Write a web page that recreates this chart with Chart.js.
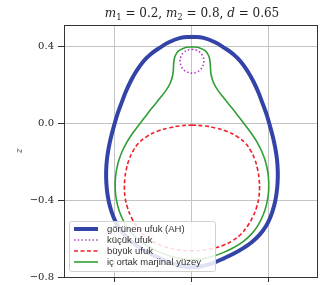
<!DOCTYPE html>
<html>
<head>
<meta charset="utf-8">
<script src="https://cdn.jsdelivr.net/npm/chart.js@4.4.0/dist/chart.umd.min.js"></script>
<style>
  html, body { margin: 0; padding: 0; background: #fff; overflow: hidden; }
  #wrap { width: 325px; height: 300px; }
</style>
</head>
<body>
<div id="wrap"><canvas id="c" width="325" height="300"></canvas></div>
<script>
// curves, as [x, z] pairs (closed loops, start at the top)
var ahPoints = [
  [0, 0.449], [0.06, 0.443], [0.12, 0.42], [0.17, 0.39], [0.215, 0.358], [0.255, 0.318], [0.29, 0.268],
  [0.32, 0.215], [0.345, 0.16], [0.366, 0.105], [0.386, 0.05], [0.404, -0.01], [0.42, -0.07],
  [0.433, -0.13], [0.442, -0.19], [0.446, -0.25], [0.445, -0.31], [0.439, -0.37], [0.427, -0.43],
  [0.409, -0.485], [0.385, -0.535], [0.352, -0.58], [0.312, -0.618], [0.267, -0.65], [0.218, -0.678],
  [0.166, -0.703], [0.112, -0.726], [0.056, -0.743], [0, -0.749],
  [-0.056, -0.743], [-0.112, -0.726], [-0.166, -0.703], [-0.218, -0.678], [-0.267, -0.65], [-0.312, -0.618],
  [-0.352, -0.58], [-0.385, -0.535], [-0.409, -0.485], [-0.427, -0.43], [-0.439, -0.37], [-0.445, -0.31],
  [-0.446, -0.25], [-0.442, -0.19], [-0.433, -0.13], [-0.42, -0.07], [-0.404, -0.01], [-0.386, 0.05],
  [-0.366, 0.105], [-0.345, 0.16], [-0.32, 0.215], [-0.29, 0.268], [-0.255, 0.318], [-0.215, 0.358],
  [-0.17, 0.39], [-0.12, 0.42], [-0.06, 0.443], [0, 0.449]
];
var smallPoints = [
  [0, 0.384], [0.024, 0.379], [0.044, 0.366], [0.057, 0.346], [0.062, 0.322], [0.057, 0.298],
  [0.044, 0.278], [0.024, 0.265], [0, 0.26], [-0.024, 0.265], [-0.044, 0.278], [-0.057, 0.298],
  [-0.062, 0.322], [-0.057, 0.346], [-0.044, 0.366], [-0.024, 0.379], [0, 0.384]
];
var bigPoints = [
  [0, -0.01], [0.06, -0.014], [0.12, -0.025], [0.18, -0.042], [0.235, -0.07], [0.278, -0.105],
  [0.306, -0.145], [0.327, -0.19], [0.341, -0.24], [0.349, -0.29], [0.351, -0.34], [0.347, -0.39],
  [0.335, -0.44], [0.315, -0.49], [0.288, -0.536], [0.254, -0.578], [0.21, -0.612], [0.16, -0.636],
  [0.11, -0.651], [0.055, -0.661], [0, -0.664],
  [-0.055, -0.661], [-0.11, -0.651], [-0.16, -0.636], [-0.21, -0.612], [-0.254, -0.578], [-0.288, -0.536],
  [-0.315, -0.49], [-0.335, -0.44], [-0.347, -0.39], [-0.351, -0.34], [-0.349, -0.29], [-0.341, -0.24],
  [-0.327, -0.19], [-0.306, -0.145], [-0.278, -0.105], [-0.235, -0.07], [-0.18, -0.042], [-0.12, -0.025],
  [-0.06, -0.014], [0, -0.01]
];
var innerPoints = [
  [0, 0.397], [0.04, 0.391], [0.07, 0.375], [0.087, 0.35], [0.094, 0.32], [0.096, 0.29], [0.1, 0.25],
  [0.112, 0.21], [0.135, 0.17], [0.17, 0.125], [0.208, 0.078], [0.244, 0.032], [0.278, -0.012],
  [0.31, -0.055], [0.339, -0.1], [0.364, -0.15], [0.382, -0.2], [0.394, -0.255], [0.399, -0.31],
  [0.397, -0.37], [0.387, -0.425], [0.37, -0.478], [0.344, -0.53], [0.31, -0.576], [0.266, -0.616],
  [0.215, -0.648], [0.165, -0.672], [0.11, -0.692], [0.055, -0.705], [0, -0.71],
  [-0.055, -0.705], [-0.11, -0.692], [-0.165, -0.672], [-0.215, -0.648], [-0.266, -0.616], [-0.31, -0.576],
  [-0.344, -0.53], [-0.37, -0.478], [-0.387, -0.425], [-0.397, -0.37], [-0.399, -0.31], [-0.394, -0.255],
  [-0.382, -0.2], [-0.364, -0.15], [-0.339, -0.1], [-0.31, -0.055], [-0.278, -0.012], [-0.244, 0.032],
  [-0.208, 0.078], [-0.17, 0.125], [-0.135, 0.17], [-0.112, 0.21], [-0.1, 0.25], [-0.096, 0.29],
  [-0.094, 0.32], [-0.087, 0.35], [-0.07, 0.375], [-0.04, 0.391], [0, 0.397]
];
var seriesLabels = ["görünen ufuk (AH)", "küçük ufuk", "büyük ufuk", "iç ortak marjinal yüzey"];
var xTicks = [-0.4, 0, 0.4];
var yTicks = [-0.8, -0.4, 0, 0.4];

function toXY(list) {
  return list.map(function (p) { return { x: p[0], y: p[1] }; });
}
function fmt(v) {
  return (v < 0 ? "\u2212" : "") + Math.abs(v).toFixed(1);
}

var styles = [
  { color: "#3443a8", width: 4, dash: [] },
  { color: "#b23cc6", width: 1.6, dash: [1.5, 2.2] },
  { color: "#ee1f2a", width: 1.6, dash: [4, 2.5] },
  { color: "#2f9e34", width: 1.6, dash: [] }
];
var curves = [ahPoints, smallPoints, bigPoints, innerPoints];

var datasets = curves.map(function (pts, i) {
  return {
    label: seriesLabels[i],
    data: toXY(pts),
    showLine: true,
    borderColor: styles[i].color,
    borderWidth: styles[i].width,
    borderDash: styles[i].dash,
    borderJoinStyle: "round",
    pointRadius: 0,
    tension: 0.4,
    fill: false
  };
});

var framePlugin = {
  id: "frame",
  afterDatasetsDraw: function (chart) {
    var ctx = chart.ctx, a = chart.chartArea;
    ctx.save();
    ctx.strokeStyle = "#333";
    ctx.lineWidth = 1;
    ctx.strokeRect(a.left + 0.5, a.top + 0.5, a.right - a.left - 1, a.bottom - a.top);

    // legend box
    var bx = 69, by = 221, bw = 146, bh = 50;
    ctx.fillStyle = "rgba(255,255,255,0.85)";
    ctx.strokeStyle = "#d0d0d0";
    ctx.beginPath();
    ctx.roundRect(bx + 0.5, by + 0.5, bw, bh, 2);
    ctx.fill();
    ctx.stroke();
    ctx.font = "9.5px 'Liberation Sans', Arial, sans-serif";
    ctx.textBaseline = "middle";
    seriesLabels.forEach(function (lab, i) {
      var y = 229 + i * 11;
      ctx.strokeStyle = styles[i].color;
      ctx.lineWidth = styles[i].width;
      ctx.setLineDash(styles[i].dash);
      ctx.beginPath();
      ctx.moveTo(74, y);
      ctx.lineTo(98, y);
      ctx.stroke();
      ctx.setLineDash([]);
      ctx.fillStyle = "#333";
      ctx.fillText(lab, 107, y + 0.5);
    });

    // title with math-style pieces
    var parts = [
      ["m", "italic 12px 'DejaVu Serif', serif", 0],
      ["1", "8.5px 'DejaVu Serif', serif", 3],
      [" = 0.2, ", "12px 'DejaVu Serif', serif", 0],
      ["m", "italic 12px 'DejaVu Serif', serif", 0],
      ["2", "8.5px 'DejaVu Serif', serif", 3],
      [" = 0.8, ", "12px 'DejaVu Serif', serif", 0],
      ["d", "italic 12px 'DejaVu Serif', serif", 0],
      [" = 0.65", "12px 'DejaVu Serif', serif", 0]
    ];
    var total = 0;
    parts.forEach(function (p) { ctx.font = p[1]; total += ctx.measureText(p[0]).width; });
    var x = 192 - total / 2;
    ctx.fillStyle = "#222";
    ctx.textBaseline = "alphabetic";
    parts.forEach(function (p) {
      ctx.font = p[1];
      ctx.fillText(p[0], x, 17 + p[2]);
      x += ctx.measureText(p[0]).width;
    });
    ctx.restore();
  }
};

new Chart(document.getElementById("c"), {
  type: "scatter",
  data: { datasets: datasets },
  options: {
    responsive: false,
    animation: false,
    devicePixelRatio: 1,
    layout: { padding: { left: 0, right: 7, top: 25, bottom: 0 } },
    plugins: { legend: { display: false }, title: { display: false }, tooltip: { enabled: false } },
    scales: {
      x: {
        type: "linear",
        min: -0.665,
        max: 0.655,
        afterBuildTicks: function (s) { s.ticks = xTicks.map(function (v) { return { value: v }; }); },
        afterFit: function (s) { s.height = 23; },
        grid: { color: "#c4c4c4", tickColor: "#333", tickLength: 5, lineWidth: 1 },
        border: { display: false },
        ticks: { callback: fmt, color: "#222", padding: 2, maxRotation: 0, font: { family: "'DejaVu Serif', serif", size: 10 } }
      },
      y: {
        type: "linear",
        min: -0.8,
        max: 0.51,
        afterBuildTicks: function (s) { s.ticks = yTicks.map(function (v) { return { value: v }; }); },
        afterFit: function (s) { s.width = 64; },
        grid: { color: "#c4c4c4", tickColor: "#333", tickLength: 6, lineWidth: 1 },
        border: { display: false },
        title: { display: true, text: "z", color: "#444", padding: { top: 14, bottom: 0 }, font: { family: "'DejaVu Serif', serif", size: 9, style: "italic" } },
        ticks: { callback: fmt, color: "#222", padding: 4, font: { family: "'DejaVu Serif', serif", size: 10 } }
      }
    }
  },
  plugins: [framePlugin]
});
</script>
</body>
</html>
